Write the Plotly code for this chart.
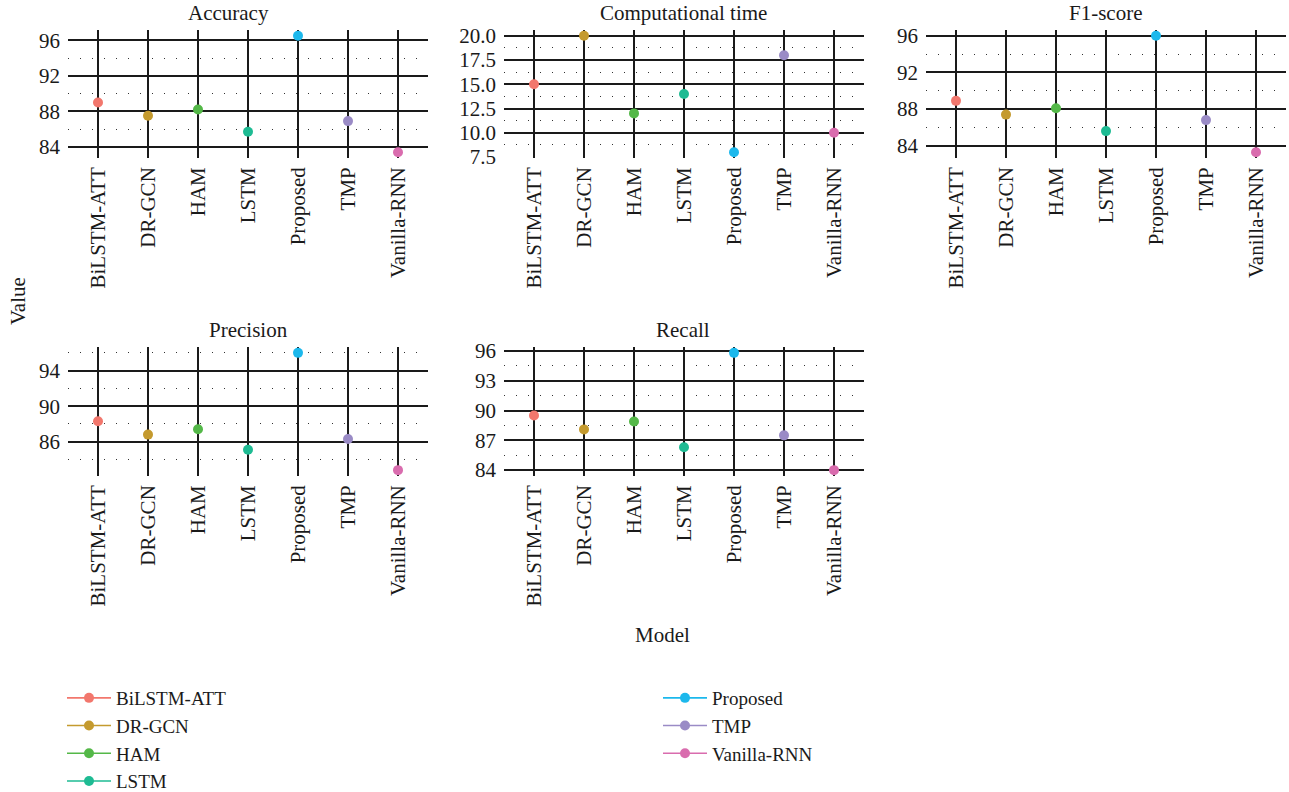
import plotly.graph_objects as go

# Models compared and the metrics shown in each facet
models = ["BiLSTM-ATT", "DR-GCN", "HAM", "LSTM", "Proposed", "TMP", "Vanilla-RNN"]
metrics = ["Accuracy", "Computational time", "F1-score", "Precision", "Recall"]

accuracy = [89.0, 87.5, 88.2, 85.7, 96.5, 86.9, 83.4]
comp_time = [15.0, 20.0, 12.0, 14.0, 8.0, 18.0, 10.0]
f1_score = [88.9, 87.4, 88.1, 85.6, 96.0, 86.8, 83.3]
precision = [88.3, 86.8, 87.4, 85.1, 96.0, 86.3, 82.8]
recall = [89.5, 88.1, 88.9, 86.3, 95.8, 87.5, 84.0]

colors = ["#F2776D", "#C49A2E", "#54B848", "#1EBB93", "#1CB8EC", "#9A8BC6", "#D96CAE"]

# major tick values and minor (dotted) grid values per facet
major_ticks = {
    "Accuracy": [84, 88, 92, 96],
    "Computational time": [7.5, 10.0, 12.5, 15.0, 17.5, 20.0],
    "F1-score": [84, 88, 92, 96],
    "Precision": [86, 90, 94],
    "Recall": [84, 87, 90, 93, 96],
}
minor_ticks = {
    "Accuracy": [86, 90, 94],
    "Computational time": [8.75, 11.25, 13.75, 16.25, 18.75],
    "F1-score": [86, 90, 94],
    "Precision": [84, 88, 92, 96],
    "Recall": [85.5, 88.5, 91.5, 94.5],
}
values = {
    "Accuracy": accuracy,
    "Computational time": comp_time,
    "F1-score": f1_score,
    "Precision": precision,
    "Recall": recall,
}

W, H = 1289, 792
FONT = "Liberation Serif"
INK = "#1a1a1a"
FS = 21

# panel boxes in pixels: (left, right, top, bottom)
panels = {
    "Accuracy": (68, 428, 30, 158),
    "Computational time": (504, 864, 30, 158),
    "F1-score": (926, 1286, 30, 158),
    "Precision": (68, 428, 347, 476),
    "Recall": (504, 864, 347, 476),
}
title_pos = {
    "Accuracy": (229, 13),
    "Computational time": (683, 13),
    "F1-score": (1105, 13),
    "Precision": (248, 330),
    "Recall": (683, 330),
}

fig = go.Figure()
layout = {}
annotations = []

for k, metric in enumerate(metrics):
    idx = "" if k == 0 else str(k + 1)
    xa, ya = "x" + idx, "y" + idx
    vals = values[metric]
    for i, m in enumerate(models):
        fig.add_trace(go.Scatter(
            x=[m], y=[vals[i]], xaxis=xa, yaxis=ya,
            mode="lines+markers", name=m, legendgroup=m,
            legend="legend" if i < 4 else "legend2",
            showlegend=(k == 0),
            marker=dict(color=colors[i], size=10),
            line=dict(color=colors[i], width=1.6),
        ))
    l, r, t, b = panels[metric]
    lo, hi = min(vals), max(vals)
    pad = (hi - lo) * 0.05
    layout["xaxis" + idx] = dict(
        domain=[l / W, r / W], anchor=ya,
        type="category", categoryorder="array", categoryarray=models,
        range=[-0.6, 6.6], tickangle=-90,
        showgrid=True, gridcolor=INK, gridwidth=1.6,
        showline=False, zeroline=False, ticks="",
        ticklabelstandoff=4,
        tickfont=dict(family=FONT, size=FS, color=INK),
    )
    layout["yaxis" + idx] = dict(
        domain=[1 - b / H, 1 - t / H], anchor=xa,
        range=[lo - pad, hi + pad],
        tickmode="array", tickvals=major_ticks[metric],
        tickformat=".1f" if metric == "Computational time" else "d",
        showgrid=True, gridcolor=INK, gridwidth=1.6,
        minor=dict(tickmode="array", tickvals=minor_ticks[metric], showgrid=True,
                   gridcolor="#333333", gridwidth=1.3, griddash="1.3px,10.7px", ticks=""),
        showline=False, zeroline=False, ticks="",
        ticklabelstandoff=7,
        tickfont=dict(family=FONT, size=FS, color=INK),
    )
    tx, ty = title_pos[metric]
    annotations.append(dict(
        text=metric, x=tx / W, y=1 - ty / H, xref="paper", yref="paper",
        xanchor="center", yanchor="middle", showarrow=False,
        font=dict(family=FONT, size=FS, color=INK),
    ))

annotations.append(dict(
    text="Value", x=18 / W, y=1 - 301 / H, xref="paper", yref="paper",
    xanchor="center", yanchor="middle", textangle=-90, showarrow=False,
    font=dict(family=FONT, size=FS, color=INK),
))
annotations.append(dict(
    text="Model", x=662 / W, y=1 - 635 / H, xref="paper", yref="paper",
    xanchor="center", yanchor="middle", showarrow=False,
    font=dict(family=FONT, size=FS, color=INK),
))

legend_style = dict(
    xanchor="left", yanchor="top", bgcolor="rgba(0,0,0,0)",
    font=dict(family=FONT, size=19, color=INK), tracegroupgap=0,
    itemwidth=44,
)

fig.update_layout(
    width=W, height=H,
    margin=dict(l=0, r=0, t=0, b=0, autoexpand=False),
    paper_bgcolor="white", plot_bgcolor="white",
    annotations=annotations,
    legend=dict(x=62 / W, y=1 - 679 / H, **legend_style),
    legend2=dict(x=658 / W, y=1 - 679 / H, **legend_style),
    **layout,
)

fig.write_html("out.html")
